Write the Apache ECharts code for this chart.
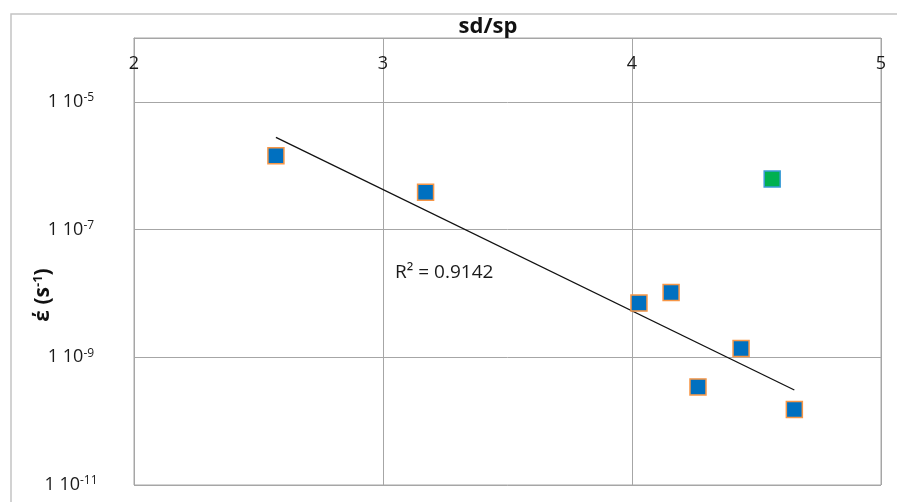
<!DOCTYPE html>
<html>
<head>
<meta charset="utf-8">
<script src="https://cdn.jsdelivr.net/npm/echarts@6/dist/echarts.min.js"></script>
<style>
  html, body { margin: 0; padding: 0; background: #ffffff; }
  #chart { width: 897px; height: 502px; }
</style>
</head>
<body>
<div id="chart"></div>
<script>
// Stress ratio sd/sp against strain rate (s^-1)
const ratio = [2.570, 3.171, 4.028, 4.157, 4.438, 4.265, 4.652];
const strainRate = [1.43e-6, 3.83e-7, 7.05e-9, 1.03e-8, 1.37e-9, 3.44e-10, 1.52e-10];
// Sample kept out of the fit
const outlierRatio = [4.563];
const outlierRate = [6.19e-7];
// Tick exponents for the logarithmic rate axis
const rateExponents = [-11, -9, -7, -5];
const ratioTicks = [2, 3, 4, 5];
const fitLabel = 'R² = 0.9142';

const FONT = 'Open Sans';
const log10 = v => Math.log10(v);

// Exponential trendline: least squares on log10(rate)
function fitLine(xs, ys) {
  const ly = ys.map(log10);
  const n = xs.length;
  const mx = xs.reduce((a, b) => a + b, 0) / n;
  const my = ly.reduce((a, b) => a + b, 0) / n;
  let sxy = 0, sxx = 0;
  for (let i = 0; i < n; i++) {
    sxy += (xs[i] - mx) * (ly[i] - my);
    sxx += (xs[i] - mx) * (xs[i] - mx);
  }
  const slope = sxy / sxx;
  const icpt = my - slope * mx;
  const x0 = Math.min(...xs), x1 = Math.max(...xs);
  return [[x0, icpt + slope * x0], [x1, icpt + slope * x1]];
}

const mainPts = ratio.map((x, i) => [x, log10(strainRate[i])]);
const outPts = outlierRatio.map((x, i) => [x, log10(outlierRate[i])]);
const trend = fitLine(ratio, strainRate);

const chart = echarts.init(document.getElementById('chart'), null, { renderer: 'canvas' });

chart.setOption({
  backgroundColor: '#ffffff',
  animation: false,
  grid: {
    left: 134, top: 38, right: 16, bottom: 17,
    show: true, borderColor: '#a6a6a6', borderWidth: 1
  },
  xAxis: {
    type: 'value',
    position: 'top',
    min: ratioTicks[0],
    max: ratioTicks[ratioTicks.length - 1],
    interval: 1,
    axisLine: { show: true, lineStyle: { color: '#a6a6a6', width: 1 } },
    axisTick: { show: false },
    axisLabel: {
      inside: true,
      margin: 17,
      fontFamily: FONT,
      fontSize: 18,
      color: '#1a1a1a'
    },
    splitLine: { show: true, lineStyle: { color: '#a6a6a6', width: 1 } }
  },
  yAxis: {
    type: 'value',
    min: rateExponents[0],
    max: -4,
    interval: 2,
    axisLine: { show: true, lineStyle: { color: '#a6a6a6', width: 1 } },
    axisTick: { show: false },
    axisLabel: {
      showMaxLabel: false,
      align: 'center',
      margin: 63,
      formatter: v => rateExponents.includes(v) ? '{a|1 10}{s|' + v + '}' : '',
      rich: {
        a: { fontFamily: FONT, fontSize: 18, color: '#1a1a1a' },
        s: { fontFamily: FONT, fontSize: 12, color: '#1a1a1a', verticalAlign: 'top', padding: [0, 0, 8, 0] }
      }
    },
    splitLine: { show: true, lineStyle: { color: '#a6a6a6', width: 1 } }
  },
  series: [
    {
      type: 'line',
      data: trend,
      symbol: 'none',
      lineStyle: { color: '#111111', width: 1.3 },
      z: 3
    },
    {
      type: 'scatter',
      data: mainPts,
      symbol: 'rect',
      symbolSize: 16,
      itemStyle: { color: '#0070C0', borderColor: '#F79646', borderWidth: 1.5, opacity: 1 },
      z: 4
    },
    {
      type: 'scatter',
      data: outPts,
      symbol: 'rect',
      symbolSize: 16,
      itemStyle: { color: '#00B050', borderColor: '#3C9BD8', borderWidth: 1.5, opacity: 1 },
      z: 4
    }
  ],
  graphic: [
    {
      type: 'rect',
      shape: { x: 11, y: 14, width: 1200, height: 1200 },
      style: { fill: 'none', stroke: '#c4c4c4', lineWidth: 1.5 },
      silent: true, z: -1
    },
    {
      type: 'text',
      x: 488, y: 27,
      style: {
        text: 'sd/sp',
        fontFamily: FONT,
        fontSize: 22,
        fontWeight: 'bold',
        fill: '#111111',
        align: 'center',
        verticalAlign: 'middle'
      }
    },
    {
      type: 'text',
      x: 43, y: 295,
      rotation: Math.PI / 2,
      style: {
        text: '{a|έ (s}{s|-1}{a|)}',
        align: 'center',
        verticalAlign: 'middle',
        rich: {
          a: { fontFamily: FONT, fontSize: 21, fontWeight: 'bold', fill: '#111111' },
          s: { fontFamily: FONT, fontSize: 13, fontWeight: 'bold', fill: '#111111', verticalAlign: 'top', padding: [0, 0, 9, 0] }
        }
      }
    },
    {
      type: 'text',
      x: 395, y: 273,
      style: {
        text: fitLabel,
        fontFamily: FONT,
        fontSize: 19,
        fill: '#1a1a1a',
        align: 'left',
        verticalAlign: 'middle'
      }
    }
  ]
});
</script>
</body>
</html>
